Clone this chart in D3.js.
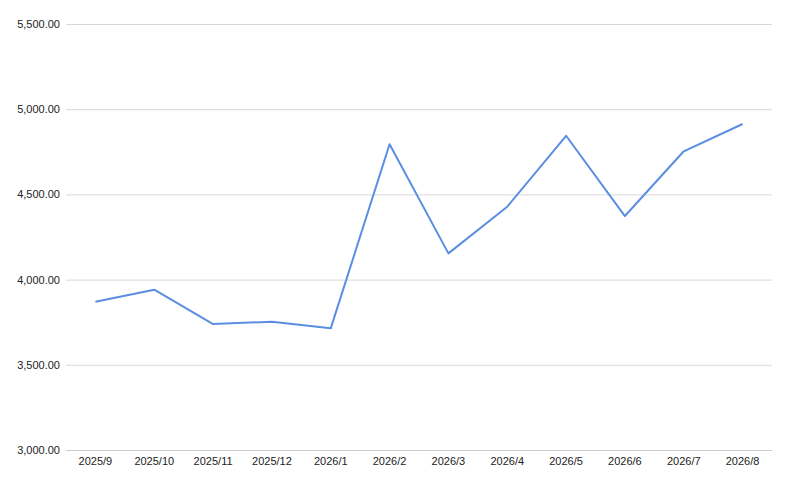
<!DOCTYPE html>
<html><head><meta charset="utf-8">
<script src="https://cdn.jsdelivr.net/npm/d3@7"></script>
<style>body{margin:0;background:#fff;}svg{display:block;}</style>
</head><body>
<svg id="c" width="789" height="483"></svg>
<script>
const categories = ["2025/9","2025/10","2025/11","2025/12","2026/1","2026/2","2026/3","2026/4","2026/5","2026/6","2026/7","2026/8"];
const values = [3870, 3941, 3739, 3753, 3714, 4794, 4154, 4428, 4844, 4373, 4753, 4913];
const yTicks = [3000, 3500, 4000, 4500, 5000, 5500];

const svg = d3.select("#c");
const m = {left: 66, right: 17, top: 24, bottom: 33};
const W = 789, H = 483;
const x = d3.scaleBand().domain(categories).range([m.left, W - m.right]);
const y = d3.scaleLinear().domain([3000, 5500]).range([H - m.bottom, m.top]);
const fmt = d3.format(",.2f");

const gy = svg.append("g").attr("transform", `translate(${m.left},0)`)
  .call(d3.axisLeft(y).tickValues(yTicks).tickFormat(fmt).tickSize(-(W - m.left - m.right)).tickPadding(6));
gy.select(".domain").remove();
gy.selectAll(".tick line").attr("stroke", "#d9d9d9");
gy.selectAll(".tick text").attr("fill", "#222").style("font-family", "Liberation Sans, Arial, sans-serif").style("font-size", "11px");
gy.selectAll(".tick").filter(d => d === 3000).select("line").attr("stroke", "#ccc");

const gx = svg.append("g").attr("transform", `translate(0,${H - m.bottom})`)
  .call(d3.axisBottom(x).tickSize(0).tickPadding(7));
gx.select(".domain").remove();
gx.selectAll(".tick text").attr("fill", "#222").style("font-family", "Liberation Sans, Arial, sans-serif").style("font-size", "11px");

const line = d3.line().x((d, i) => x(categories[i]) + x.bandwidth() / 2).y(d => y(d));
svg.append("path").datum(values).attr("d", line)
  .attr("fill", "none").attr("stroke", "#5b8ee0").attr("stroke-width", 2).attr("stroke-linejoin", "round");
</script>
</body></html>
